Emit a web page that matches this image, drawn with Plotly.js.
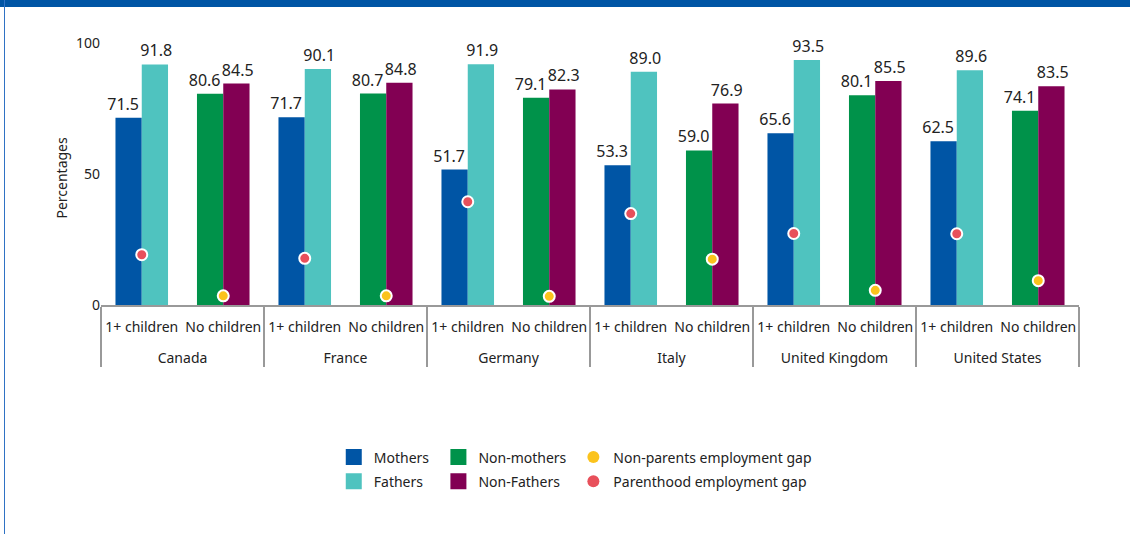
<!DOCTYPE html>
<html>
<head>
<meta charset="utf-8">
<script src="https://cdn.plot.ly/plotly-3.0.1.min.js"></script>
<style>
html,body{margin:0;padding:0;background:#fff;}
#wrap{position:relative;width:1130px;height:534px;overflow:hidden;}
#chart{position:absolute;left:0;top:0;width:1130px;height:534px;}
#topbar{position:absolute;left:0;top:0;width:1130px;height:7px;background:#0055a5;z-index:5;}
#leftline{position:absolute;left:4px;top:0;width:1px;height:534px;background:#2f72c4;z-index:5;}
</style>
</head>
<body>
<div id="wrap">
<div id="chart"></div>
<div id="topbar"></div>
<div id="leftline"></div>
</div>
<script>
const countries = ['Canada','France','Germany','Italy','United Kingdom','United States'];
const groupLabels = ['1+ children','No children'];
const mothers = [71.5,71.7,51.7,53.3,65.6,62.5];
const fathers = [91.8,90.1,91.9,89.0,93.5,89.6];
const nonMothers = [80.6,80.7,79.1,59.0,80.1,74.1];
const nonFathers = [84.5,84.8,82.3,76.9,85.5,83.5];
const parenthoodGap = [19.2,17.8,39.4,34.9,27.3,27.2];
const nonParentsGap = [3.5,3.5,3.3,17.5,5.6,9.3];
const yTicks = [0,50,100];

const colors = {mothers:'#0055a5', fathers:'#4fc3bf', nonMothers:'#00924a', nonFathers:'#820053', nonParents:'#fbc31d', parenthood:'#e8505b'};

// an empty first line lowers the country row of the two-level axis
const lvl2 = countries.map(c => '<br>' + c);
const xWith = [lvl2, countries.map(()=>groupLabels[0])];
const xNo = [lvl2, countries.map(()=>groupLabels[1])];
const font = 'Noto Sans, Open Sans, sans-serif';

function bar(name, x, y, color, og, tmpl){
  return {type:'bar', name:name, x:x, y:y, offsetgroup:og, marker:{color:color},
    texttemplate:tmpl, textposition:'outside', cliponaxis:false, constraintext:'none',
    textfont:{family:font, size:16, color:'#222'}, showlegend:false, hoverinfo:'skip'};
}
const leftTmpl = '%{y:.1f}\u00a0\u00a0\u2009';
const rightTmpl = '\u2009%{y:.1f}';
// legend-only entries drawn on a hidden helper axis, outside its range
function legendEntry(name, color, lg, symbol, size){
  return {type:'scatter', mode:'markers', name:name, x:[-10], y:[-10], xaxis:'x2', yaxis:'y2', legend:lg,
    legendgroup:name, marker:{symbol:symbol, size:size, color:color}, hoverinfo:'skip', cliponaxis:true};
}
const data = [
  bar('Mothers', xWith, mothers, colors.mothers, 'a', leftTmpl),
  bar('Fathers', xWith, fathers, colors.fathers, 'b', rightTmpl),
  bar('Non-mothers', xNo, nonMothers, colors.nonMothers, 'a', leftTmpl),
  bar('Non-Fathers', xNo, nonFathers, colors.nonFathers, 'b', rightTmpl),
  {type:'scatter', mode:'markers', name:'Parenthood employment gap', x:xWith, y:parenthoodGap,
    marker:{size:11, color:colors.parenthood, line:{color:'#fff', width:2}}, cliponaxis:false,
    showlegend:false, hoverinfo:'skip'},
  {type:'scatter', mode:'markers', name:'Non-parents employment gap', x:xNo, y:nonParentsGap,
    marker:{size:11, color:colors.nonParents, line:{color:'#fff', width:2}}, cliponaxis:false,
    showlegend:false, hoverinfo:'skip'},
  legendEntry('Mothers', colors.mothers, 'legend', 'square', 16),
  legendEntry('Fathers', colors.fathers, 'legend', 'square', 16),
  legendEntry('Non-mothers', colors.nonMothers, 'legend2', 'square', 16),
  legendEntry('Non-Fathers', colors.nonFathers, 'legend2', 'square', 16),
  legendEntry('Non-parents employment gap', colors.nonParents, 'legend3', 'circle', 12),
  legendEntry('Parenthood employment gap', colors.parenthood, 'legend3', 'circle', 12)
];

const legendBase = {orientation:'v', yanchor:'top', xanchor:'left', y:-0.5,
  font:{family:font, size:14, color:'#222'}, bgcolor:'rgba(0,0,0,0)', tracegroupgap:3, itemclick:false, itemdoubleclick:false};

const layout = {
  width:1130, height:534,
  margin:{l:101, r:51, t:32, b:229},
  paper_bgcolor:'#fff', plot_bgcolor:'#fff',
  font:{family:font, size:14, color:'#222'},
  barmode:'group', bargap:0.355, bargroupgap:0,
  showlegend:true,
  xaxis:{type:'multicategory', range:[-0.5, 11.5], showdividers:true, dividercolor:'#999', dividerwidth:1.5,
    showline:true, linecolor:'#999', linewidth:1.5, ticks:'', showgrid:false, zeroline:false, tickangle:0,
    ticklabelstandoff:9, tickfont:{family:font, size:14, color:'#222'}},
  yaxis:{range:[0,104.2], tickvals:yTicks, ticktext:yTicks.map(String), showgrid:false, zeroline:false,
    showline:false, ticks:'', tickfont:{family:font, size:14, color:'#222'}},
  xaxis2:{domain:[0,0.01], range:[0,1], visible:false, anchor:'y2', fixedrange:true},
  yaxis2:{domain:[0,0.01], range:[0,1], visible:false, anchor:'x2', fixedrange:true},
  annotations:[{text:'Percentages', textangle:-90, xref:'paper', yref:'paper', x:-0.0406, y:0.468,
    xanchor:'center', yanchor:'middle', showarrow:false, font:{family:font, size:14, color:'#222'}}],
  legend:Object.assign({}, legendBase, {x:0.238}),
  legend2:Object.assign({}, legendBase, {x:0.345}),
  legend3:Object.assign({}, legendBase, {x:0.483})
};

Plotly.newPlot('chart', data, layout, {displayModeBar:false, staticPlot:true});
</script>
</body>
</html>
